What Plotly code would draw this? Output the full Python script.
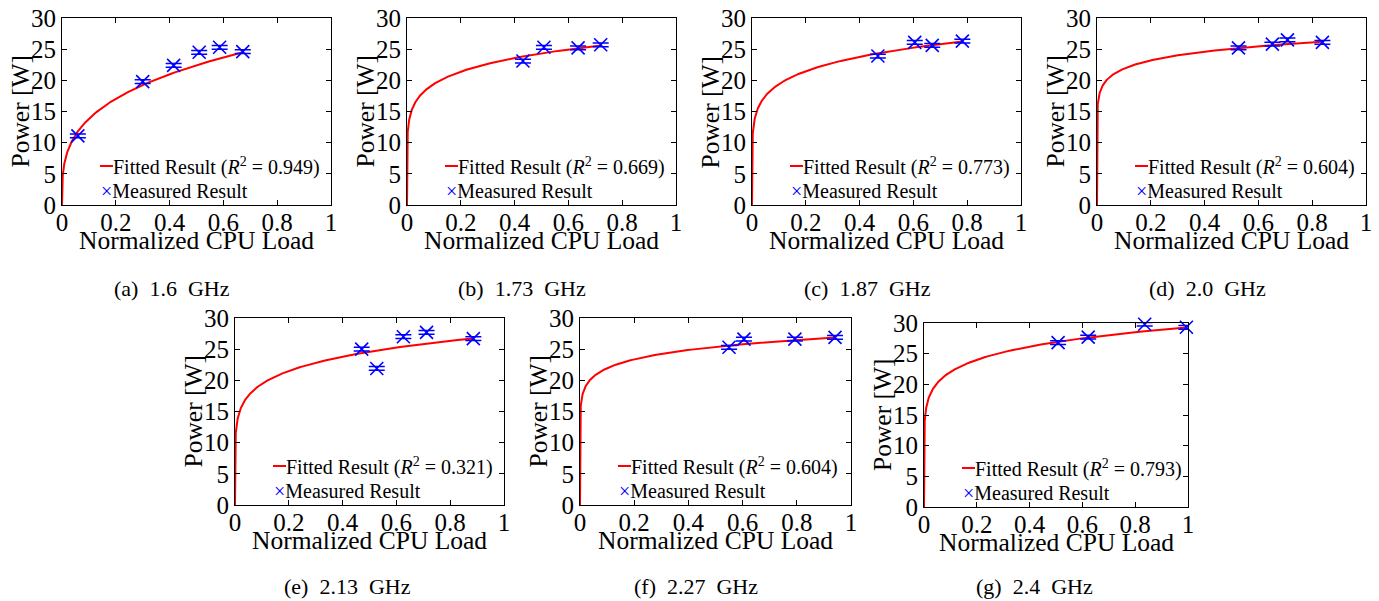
import numpy as np
import plotly.graph_objects as go

W, H = 1379, 601
FONT = "Liberation Serif, Times New Roman, serif"

# ---------------- data ----------------
panel_tags = ["(a)", "(b)", "(c)", "(d)", "(e)", "(f)", "(g)"]
freq_labels = ["1.6 GHz", "1.73 GHz", "1.87 GHz", "2.0 GHz", "2.13 GHz", "2.27 GHz", "2.4 GHz"]
r2_values = ["0.949", "0.669", "0.773", "0.604", "0.321", "0.604", "0.793"]

load_a = [0.059, 0.300, 0.415, 0.510, 0.586, 0.672]
power_a = [11.1, 19.8, 22.4, 24.5, 25.3, 24.6]
load_b = [0.431, 0.509, 0.636, 0.720]
power_b = [23.1, 25.3, 25.2, 25.7]
load_c = [0.468, 0.605, 0.670, 0.782]
power_c = [23.9, 26.1, 25.6, 26.3]
load_d = [0.526, 0.652, 0.708, 0.838]
power_d = [25.2, 25.8, 26.5, 26.1]
load_e = [0.471, 0.527, 0.626, 0.712, 0.886]
power_e = [25.0, 21.9, 27.0, 27.7, 26.7]
load_f = [0.550, 0.605, 0.793, 0.941]
power_f = [25.3, 26.6, 26.6, 26.9]
load_g = [0.508, 0.622, 0.836, 0.994]
power_g = [26.8, 27.7, 29.8, 29.3]
power_err = 0.3  # half-height of the measurement error bars [W]

# fitted model P = a * u^b (coefficients)
fit_coef = [27.6, 26.8, 27.2, 26.6, 27.2, 27.0, 29.3]
fit_exp = [0.300, 0.140, 0.147, 0.085, 0.146, 0.090, 0.124]

loads = [load_a, load_b, load_c, load_d, load_e, load_f, load_g]
powers = [power_a, power_b, power_c, power_d, power_e, power_f, power_g]

x_ticks = [0, 0.2, 0.4, 0.6, 0.8, 1]
x_ticktext = ["0", "0.2", "0.4", "0.6", "0.8", "1"]
y_ticks = [0, 5, 10, 15, 20, 25, 30]

# ---------------- layout geometry (pixels) ----------------
boxes = [(62, 331, 18, 205), (407, 676, 18, 205), (752, 1021, 18, 205), (1097, 1366, 18, 205),
         (235, 504, 318, 505), (580, 851, 318, 505), (924, 1188, 323, 507)]
caption_pos = [(172, 288), (522, 288), (867, 288), (1207, 288),
               (347, 586), (696, 586), (1034, 586)]


def px(x):
    return x / W


def py(y):
    return 1 - y / H


fig = go.Figure()
annotations = []
shapes = []
layout_axes = {}

for i in range(7):
    l, r, t, b = boxes[i]
    sfx = "" if i == 0 else str(i + 1)
    xa, ya = "x" + sfx, "y" + sfx

    u = np.concatenate([[0.0], np.geomspace(1e-6, max(loads[i]), 400)])
    p = fit_coef[i] * u ** fit_exp[i]
    fig.add_trace(go.Scatter(x=u, y=p, mode="lines", xaxis=xa, yaxis=ya,
                             line=dict(color="#ff0000", width=2), showlegend=False,
                             name="Fitted Result"))
    fig.add_trace(go.Scatter(x=loads[i], y=powers[i], mode="markers", xaxis=xa, yaxis=ya,
                             marker=dict(symbol="x-thin", size=13, color="#0000ff",
                                         line=dict(color="#0000ff", width=1.6)),
                             error_y=dict(type="constant", value=power_err, color="#0000ff",
                                          thickness=1.5, width=8),
                             cliponaxis=False, showlegend=False, name="Measured Result"))

    common = dict(showline=True, linecolor="black", linewidth=1, mirror="ticks",
                  ticks="inside", ticklen=5, tickwidth=1, tickcolor="black",
                  showgrid=False, zeroline=False, automargin=False,
                  tickfont=dict(family=FONT, size=25, color="black"))
    layout_axes["xaxis" + sfx] = dict(common, domain=[px(l), px(r)], range=[0, 1],
                                      tickvals=x_ticks, ticktext=x_ticktext, anchor=ya,
                                      ticklabelstandoff=-5)
    layout_axes["yaxis" + sfx] = dict(common, domain=[py(b), py(t)], range=[0, 30],
                                      tickvals=y_ticks, anchor=xa)

    # axis titles
    annotations.append(dict(x=px((l + r) / 2), y=py(b + 35), xref="paper", yref="paper",
                            text="Normalized CPU Load", showarrow=False,
                            xanchor="center", yanchor="middle",
                            font=dict(family=FONT, size=25.5, color="black")))
    annotations.append(dict(x=px(l - 42), y=py((t + b) / 2), xref="paper", yref="paper",
                            text="Power [W]", showarrow=False, textangle=-90,
                            xanchor="center", yanchor="middle",
                            font=dict(family=FONT, size=25.5, color="black")))
    # legend (inside box, lower part)
    shapes.append(dict(type="line", xref="paper", yref="paper",
                       x0=px(l + 38), x1=px(l + 51), y0=py(b - 39), y1=py(b - 39),
                       line=dict(color="#ff0000", width=2)))
    annotations.append(dict(x=px(l + 49), y=py(b - 39), xref="paper", yref="paper",
                            text="Fitted Result (<i>R</i><sup>2</sup> = " + r2_values[i] + ")",
                            showarrow=False, xanchor="left", yanchor="middle",
                            font=dict(family=FONT, size=20, color="black")))
    annotations.append(dict(x=px(l + 37), y=py(b - 14), xref="paper", yref="paper",
                            text="<span style='color:#0000ff'>\u00d7</span>Measured Result",
                            showarrow=False, xanchor="left", yanchor="middle",
                            font=dict(family=FONT, size=20, color="black")))
    # sub-caption
    cx, cy = caption_pos[i]
    annotations.append(dict(x=px(cx), y=py(cy), xref="paper", yref="paper",
                            text=panel_tags[i] + "\u2002" + freq_labels[i].replace(" ", "\u2002"),
                            showarrow=False, xanchor="center", yanchor="middle",
                            font=dict(family=FONT, size=22, color="black")))

fig.update_layout(width=W, height=H,
                  margin=dict(l=0, r=0, t=0, b=0, pad=0, autoexpand=False),
                  paper_bgcolor="white", plot_bgcolor="white",
                  annotations=annotations, shapes=shapes, showlegend=False,
                  font=dict(family=FONT, color="black"), **layout_axes)

fig.write_html("out.html",
               config={"displayModeBar": False},
               post_script="document.body.style.margin='0px';"
                           "document.body.style.overflow='hidden';")
